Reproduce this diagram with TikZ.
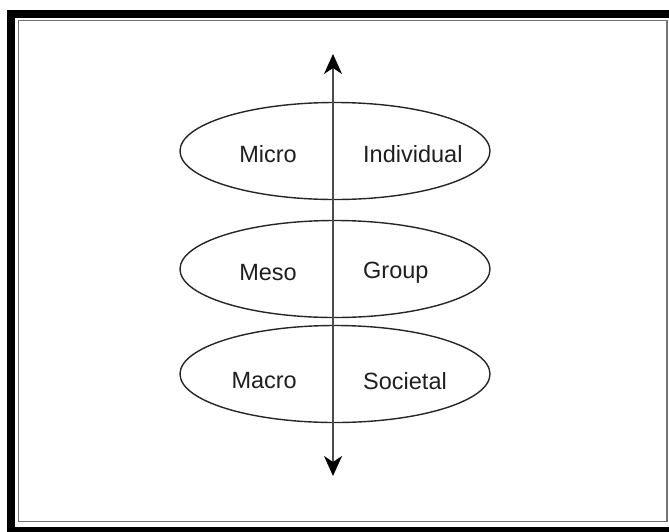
\documentclass[tikz,border=0pt]{standalone}
\usepackage{fontspec}
\setmainfont{Liberation Sans}
\usetikzlibrary{shapes.geometric,arrows.meta}
\begin{document}
\begin{tikzpicture}[x=1pt,y=-1pt,
  level/.style={draw=black!85,line width=1.4pt,ellipse,minimum width=310pt,minimum height=97pt,inner sep=0pt},
  lbl/.style={text=black!88,font=\fontsize{23.5}{27}\selectfont,inner sep=0pt},
  axis/.style={draw=black!70,line width=1.5pt,{Stealth[length=20pt,width=18pt,inset=6pt,black]}-{Stealth[length=20pt,width=18pt,inset=6pt,black]}}]
\useasboundingbox (0,0) rectangle (669,531);
% frame
\fill[black] (7,10) rectangle (680,540);
\fill[white] (15,18) rectangle (669,527);
\draw[black!55,line width=1.5pt] (18.5,20.5) rectangle (667,521.5);
% ellipses
\node[level] (micro) at (335,151) {};
\node[level] (meso) at (335,269) {};
\node[level] (macro) at (335,374) {};
% labels
\node[lbl,anchor=east] (tmicro) at (297,154) {Micro};
\node[lbl,anchor=west] (tind) at (363,154) {Individual};
\node[lbl,anchor=east] (tmeso) at (297,273) {Meso};
\node[lbl,anchor=west] (tgroup) at (363,273) {Group};
\node[lbl,anchor=east] (tmacro) at (297,381) {Macro};
\node[lbl,anchor=west] (tsoc) at (363,381) {Societal};
% axis
\coordinate (top) at (333,54);
\coordinate (bot) at (333,476);
\draw[axis] (top) -- (bot);
\end{tikzpicture}
\end{document}
